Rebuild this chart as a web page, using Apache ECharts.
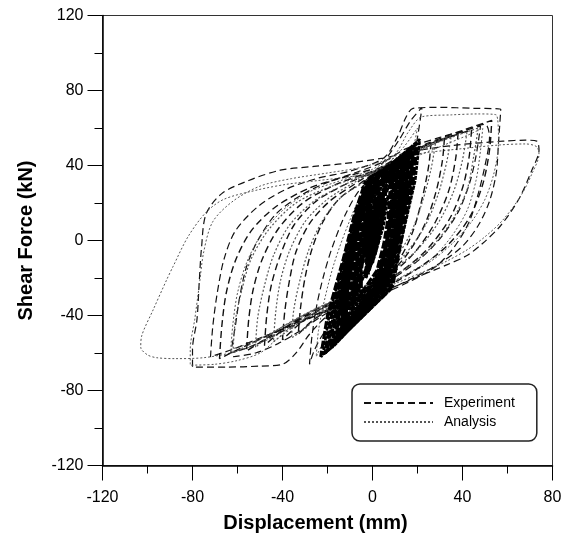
<!DOCTYPE html>
<html>
<head>
<meta charset="utf-8">
<script src="https://cdn.jsdelivr.net/npm/echarts@6/dist/echarts.min.js"></script>
<style>
  html, body { margin: 0; padding: 0; background: #fff; }
  #chart { width: 571px; height: 544px; }
</style>
</head>
<body>
<div id="chart"></div>
<script>
// Axis ticks
const xTicks = [-120, -80, -40, 0, 40, 80];
const yTicks = [-120, -80, -40, 0, 40, 80, 120];

// Experiment: small cycles around the origin (displacement mm, shear kN)
const expCore = [
  [0,0],[-1,8],[0,16],[-2,2],[-3,-12],[-2,-2],[-1,10],[-2,-6],[-3,-16],[-1,-4],[0,12],
  [-2,4],[-3,-8],[-1,0],[0,-8],
  [0,0],[1,8],[2,18],[3,24],[2,10],[1,-2],[-1,-14],[0,2],[1,14],[2,26],[3,12],[2,0],[0,-12],
  [1,4],[2,14],[1,22],[0,10],[-1,-4],[0,-10],[2,6],[3,18],
  [0,0],[2,10],[4,20],[5,26],[4,12],[2,0],[0,-10],[-2,-18],[-1,-6],[1,6],[3,18],[6,28],
  [5,14],[3,2],[1,-8],[-3,-20],[-2,-8],[0,6],[2,16],[4,24],[3,10],[1,-2],[-1,-14],
  [0,0],[3,12],[6,22],[4,8],[1,-6],[-4,-18],[-7,-28],[-5,-14],[-2,4],[2,18],
  [8,30],[7,12],[5,-2],[2,-16],[-6,-30],[-8,-34],[-7,-18],[-5,-4],[-2,12],[3,24],
  [9,34],[8,14],[6,-4],[3,-18],[-3,-28],[-5,-32],[-5,-16],[-3,0],[0,16],[4,26],
  [11,36],[10,16],[8,0],[4,-20],[-9,-40],[-11,-44],[-10,-24],[-8,-6],[-4,14],[2,28],
  [13,42],[12,26],[10,10],[7,-8],[0,-28],[-10,-42],[-13,-46],[-12,-32],[-10,-16],[-7,4],[-3,22],[3,34],
  [13,40],[12,20],[10,2],[5,-22],[-11,-46],[-13,-50],[-12,-30],[-9,-8],[-5,14],[1,30],
  [11,36],[10,22],[8,8],[5,-10],[1,-26],[-6,-36],[-9,-40],[-9,-28],[-7,-12],[-4,6],[-1,22],[4,32],
  [15,44],[14,24],[11,2],[6,-24],[-13,-50],[-15,-53],[-14,-34],[-10,-8],[-6,14],[0,32],
  [16,44],[15,30],[13,14],[9,-6],[4,-26],[-8,-40],[-16,-54],[-15,-40],[-12,-20],[-9,0],[-5,20],[1,32],
  [17,48],[16,28],[12,4],[7,-24],[-15,-52],[-18,-57],[-16,-36],[-11,-8],[-6,16],[0,34],
  [19,50],[18,30],[13,4],[8,-26],[-18,-56],[-21,-60],[-18,-38],[-12,-8],[-7,16],[-1,34],
  [12,42],[11,22],[9,4],[5,-20],[-7,-38],[-9,-42],[-8,-22],[-6,-4],[-3,14],[2,30],
  [18,46],[17,32],[14,16],[11,-2],[6,-22],[-4,-34],[-14,-48],[-19,-56],[-17,-42],[-14,-24],[-10,-4],[-6,16],[-1,30],
  [10,38],[9,20],[7,2],[3,-20],[-10,-42],[-12,-46],[-11,-26],[-9,-6],[-5,12],[0,28],
  [14,42],[13,22],[10,0],[6,-20],[-4,-34],[-6,-38],[-6,-20],[-4,-2],[-1,16],[4,30],
  [14,38],[13,24],[11,10],[8,-6],[3,-24],[-7,-38],[-11,-44],[-10,-30],[-8,-14],[-5,4],[-2,20],[2,30],
  [16,46],[15,26],[12,6],[9,-14],[-12,-48],[-14,-52],[-13,-32],[-11,-12],[-7,10],[-2,30],
  [20,52],[18,32],[14,8],[9,-24],[-20,-58],[-23,-62],[-20,-40],[-13,-10],[-8,14],[-3,32]
];

// Experiment: intermediate cycles
const expMid = [
  [-3,30],[8,40],[18,47],[26,52],[25,40],[22,22],[18,5],[12,-10],[4,-22],[-8,-30],[-18,-36],
  [-27,-43],[-33,-50],[-32,-36],[-30,-20],[-27,-5],[-22,10],[-15,22],[-6,30],
  [6,40],[18,48],[32,55],[31,42],[28,25],[23,8],[15,-8],[5,-20],[-8,-28],[-22,-36],[-32,-44],
  [-40,-53],[-39,-38],[-37,-22],[-34,-6],[-28,9],[-19,21],[-8,30],
  [5,40],[20,49],[38,57],[37,44],[34,27],[28,10],[19,-6],[8,-18],[-6,-27],[-22,-35],[-36,-44],
  [-48,-56],[-47,-40],[-45,-24],[-41,-8],[-35,8],[-25,21],[-12,30],
  [3,38],[22,50],[44,59],[43,45],[40,28],[34,11],[24,-5],[12,-17],[-4,-27],[-22,-36],[-40,-47],
  [-56,-59],[-55,-42],[-53,-26],[-49,-10],[-42,6],[-31,20],[-16,30],
  [2,38],[25,52],[53,64],[52,48],[49,30],[43,12],[33,-3],[20,-15],[4,-26],[-16,-35],[-38,-46],
  [-56,-56],[-68,-63],[-67,-46],[-65,-28],[-61,-11],[-54,5],[-43,18],[-28,28],[-12,34],[0,38]
];

// Experiment: largest cycles
const expLoops = [
  [-3,32],[5,42],[12,54],[17,64],[22,71],[20,55],[17,36],[14,16],[10,-4],[6,-20],[1,-29],
  [-8,-35],[-16,-42],[-22,-50],[-26,-59],[-28,-66],[-27,-52],[-25,-36],[-22,-20],[-18,-4],
  [-12,14],[-5,28],[5,37],[16,45],[28,52],[40,58],[50,62],[52,55],[50,40],[47,25],[43,10],
  [36,-4],[28,-14],[18,-21],[5,-28],[-10,-33],[-25,-40],[-36,-46],[-46,-52],[-55,-57],[-63,-60],
  [-61,-46],[-59,-30],[-56,-14],[-51,0],[-43,14],[-32,24],[-20,31],[-8,36],[5,42],[15,49],
  [30,55],[42,59],[48,61],[46,45],[43,30],[38,15],[30,1],[20,-11],[8,-21],[-5,-29],[-20,-37],
  [-35,-45],[-50,-52],[-62,-58],[-72,-62],[-71,-46],[-69,-28],[-66,-10],[-61,5],[-51,18],
  [-39,27],[-25,33],[-10,37],[5,44],[11,55],[15,66],[18,70.5],[30,71],[45,70.5],[57,70],
  [56,52],[55,36],[52,21],[47,8],[40,-3],[30,-12],[18,-20],[5,-27],[-10,-32],[-20,-40],
  [-28,-50],[-34,-60],[-40,-66],[-50,-67],[-65,-67.5],[-80,-67.5],[-80,-58],[-78,-42],
  [-77,-22],[-76,-4],[-74,14],[-67,25],[-55,32],[-41,37.5],[-26,39.5],[-13,41],[5,44],
  [20,48],[38,51],[58,53],[68,53.5],[73,53],[74,48],[71,38],[65,22],[57,8],[49,-1.5],
  [42,-8],[33,-13],[27,-16],[15,-22],[3,-28],[-10,-33],[-22,-40],[-32,-48],[-42,-55],
  [-52,-60],[-62,-62]
];

// Analysis: small cycles around the origin
const anaCore = [
  [0,0],[-2,6],[-1,14],[-3,-4],[-2,-14],[0,-2],[-1,10],[-3,0],[-2,-10],
  [0,0],[2,12],[4,22],[3,10],[1,-2],[-1,-12],[-3,-20],[-1,-8],[1,4],[3,16],[5,26],
  [4,14],[2,2],[0,-8],[-2,-16],[-1,-4],[1,8],[3,20],
  [0,0],[4,14],[7,24],[5,8],[1,-8],[-5,-22],[-8,-30],[-6,-14],[-2,6],[3,20],
  [9,32],[8,14],[6,-2],[2,-18],[-8,-36],[-10,-40],[-9,-20],[-7,-4],[-3,14],[2,26],
  [12,38],[11,18],[9,0],[4,-22],[-10,-44],[-12,-47],[-11,-26],[-9,-6],[-5,14],[1,30],
  [10,34],[9,20],[7,4],[4,-14],[-2,-28],[-7,-36],[-8,-24],[-6,-8],[-3,10],[1,24],
  [14,42],[13,22],[10,2],[5,-24],[-12,-48],[-14,-51],[-13,-32],[-10,-8],[-5,14],[0,32],
  [16,46],[15,26],[11,2],[6,-26],[-14,-51],[-17,-55],[-15,-34],[-10,-6],[-6,16],[0,34],
  [15,42],[14,28],[12,12],[8,-8],[2,-26],[-9,-42],[-12,-46],[-12,-32],[-9,-12],[-6,8],[-2,24],
  [18,50],[17,28],[12,4],[7,-26],[-17,-56],[-20,-59],[-17,-36],[-11,-8],[-6,16],[-1,34],
  [11,40],[10,20],[8,2],[4,-22],[-8,-40],[-10,-43],[-9,-22],[-7,-4],[-3,14],[2,30],
  [13,40],[12,20],[9,0],[5,-18],[-5,-36],[-7,-40],[-7,-20],[-5,-2],[-2,16],[3,30],
  [17,46],[16,30],[13,12],[9,-8],[3,-26],[-10,-44],[-16,-52],[-15,-38],[-12,-18],[-8,2],[-4,22],[0,32],
  [21,54],[19,32],[14,6],[8,-26],[-19,-58],[-22,-61],[-19,-38],[-12,-8],[-7,16],[-2,32]
];

// Analysis: intermediate cycles
const anaMid = [
  [-2,30],[10,40],[20,47],[28,52],[26,38],[22,20],[17,4],[10,-10],[1,-22],[-12,-31],[-24,-40],
  [-30,-47],[-36,-52],[-35,-37],[-32,-20],[-28,-4],[-22,11],[-14,23],[-4,31],
  [8,41],[22,50],[35,56],[33,42],[29,24],[23,7],[14,-8],[3,-20],[-12,-30],[-28,-40],[-44,-54],
  [-43,-38],[-41,-22],[-37,-6],[-30,10],[-20,22],[-8,31],
  [6,40],[24,50],[42,58],[40,43],[36,26],[29,9],[19,-6],[6,-18],[-10,-28],[-28,-38],[-44,-49],
  [-52,-57],[-51,-41],[-48,-24],[-44,-8],[-37,8],[-26,21],[-12,30],
  [4,39],[26,51],[47,60],[45,45],[42,27],[35,10],[25,-5],[12,-17],[-6,-27],[-26,-37],[-46,-50],
  [-62,-60],[-61,-43],[-58,-26],[-54,-10],[-46,6],[-34,20],[-18,29],[0,36]
];

// Analysis: largest cycles
const anaLoops = [
  [-2,32],[6,40],[14,50],[20,60],[17,42],[13,20],[9,0],[4,-20],[-4,-30],[-14,-40],[-20,-50],
  [-25,-62],[-24,-48],[-21,-30],[-17,-12],[-11,8],[-4,26],[6,36],[18,44],[30,50],[42,56],
  [49,60],[48,48],[46,32],[42,16],[35,2],[26,-10],[15,-18],[3,-26],[-12,-32],[-28,-40],
  [-42,-48],[-55,-55],[-63,-58],[-62,-44],[-60,-28],[-56,-12],[-50,2],[-40,16],[-28,26],
  [-14,32],[0,38],[10,46],[16,58],[22,66],[35,67],[47,67.5],[55,67],[56,52],[54,36],
  [50,22],[44,10],[36,-1],[26,-11],[14,-19],[0,-26],[-15,-32],[-30,-40],[-42,-52],[-50,-60],
  [-60,-64],[-70,-66],[-81,-66.5],[-81,-58],[-79,-42],[-77,-24],[-75,-6],[-71,10],[-62,21],
  [-50,29],[-36,33],[-20,36],[-5,39],[10,44],[25,47],[40,49],[57,51],[68,51.5],[73,50],
  [74,46],[71,36],[66,24],[58,11],[50,2],[42,-5],[33,-11],[24,-16],[12,-22],[0,-28],
  [-15,-34],[-30,-42],[-45,-52],[-60,-59],[-75,-62.5],[-88,-63],[-96,-62.5],[-100,-61],
  [-103,-57],[-102.6,-51],[-97.5,-37],[-91.5,-21],[-88.7,-14],[-82,2],[-74,15],[-66,22],
  [-51,27],[-38,30],[-24,32],[-10,34],[0,36]
];

const FONT = '"Liberation Sans", Arial, sans-serif';
const expStyle = { color: '#111', width: 1.2, type: [7, 4] };
const anaStyle = { color: '#555', width: 1, type: [2, 2] };

const chart = echarts.init(document.getElementById('chart'), null, { renderer: 'canvas' });

function axisCommon(ticks) {
  return {
    type: 'value',
    min: ticks[0],
    max: ticks[ticks.length - 1],
    interval: 40,
    splitLine: { show: false },
    axisLine: { show: true, onZero: false, lineStyle: { color: '#000', width: 1.5 } },
    axisTick: { show: true, inside: false, length: 15, lineStyle: { color: '#000', width: 1 } },
    minorTick: { show: true, splitNumber: 2, length: 8, lineStyle: { color: '#000', width: 1 } },
    axisLabel: { color: '#000', fontSize: 16, fontFamily: FONT },
    nameLocation: 'middle',
    nameTextStyle: { color: '#000', fontSize: 20, fontWeight: 'bold', fontFamily: FONT }
  };
}

const xAxis = Object.assign(axisCommon(xTicks), {
  name: 'Displacement (mm)',
  nameGap: 48
});
xAxis.axisLabel.margin = 24;
xAxis.nameTextStyle.padding = [0, 24, 0, 0];

const yAxis = Object.assign(axisCommon(yTicks), {
  name: 'Shear Force (kN)',
  nameGap: 66
});
yAxis.axisLabel.margin = 19;

const lineSeries = (name, data, style, smooth) => ({
  name: name,
  type: 'line',
  data: data,
  symbol: 'none',
  showSymbol: false,
  smooth: smooth,
  animation: false,
  itemStyle: { color: style.color },
  lineStyle: style,
  emphasis: { disabled: true }
});

chart.setOption({
  animation: false,
  backgroundColor: '#fff',
  grid: {
    left: 102.5, right: 18.5, top: 15.5, bottom: 78.5,
    show: true, borderColor: '#333', borderWidth: 1, backgroundColor: 'transparent'
  },
  xAxis: xAxis,
  yAxis: yAxis,
  legend: {
    data: ['Experiment', 'Analysis'],
    orient: 'vertical',
    left: 352,
    top: 384,
    itemWidth: 69,
    itemHeight: 14,
    itemGap: 5,
    padding: [12, 22, 12, 11],
    borderColor: '#222',
    borderWidth: 1.5,
    borderRadius: 8,
    backgroundColor: '#fff',
    itemStyle: { opacity: 0 },
    textStyle: { color: '#000', fontSize: 14, fontFamily: FONT, padding: [0, 0, 0, 6] },
    selectedMode: false
  },
  series: [
    lineSeries('Experiment', expLoops, expStyle, 0.3),
    lineSeries('Analysis', anaLoops, anaStyle, 0.3),
    lineSeries('Experiment', expMid, Object.assign({}, expStyle, { width: 1.4 }), 0.3),
    lineSeries('Analysis', anaMid, Object.assign({}, anaStyle, { width: 1.2 }), 0.3),
    lineSeries('Experiment', expCore, Object.assign({}, expStyle, { width: 3.2, color: '#000', type: [8, 2] }), false),
    lineSeries('Analysis', anaCore, Object.assign({}, anaStyle, { width: 2.6, color: '#000', type: [4, 1] }), false)
  ]
});
</script>
</body>
</html>
